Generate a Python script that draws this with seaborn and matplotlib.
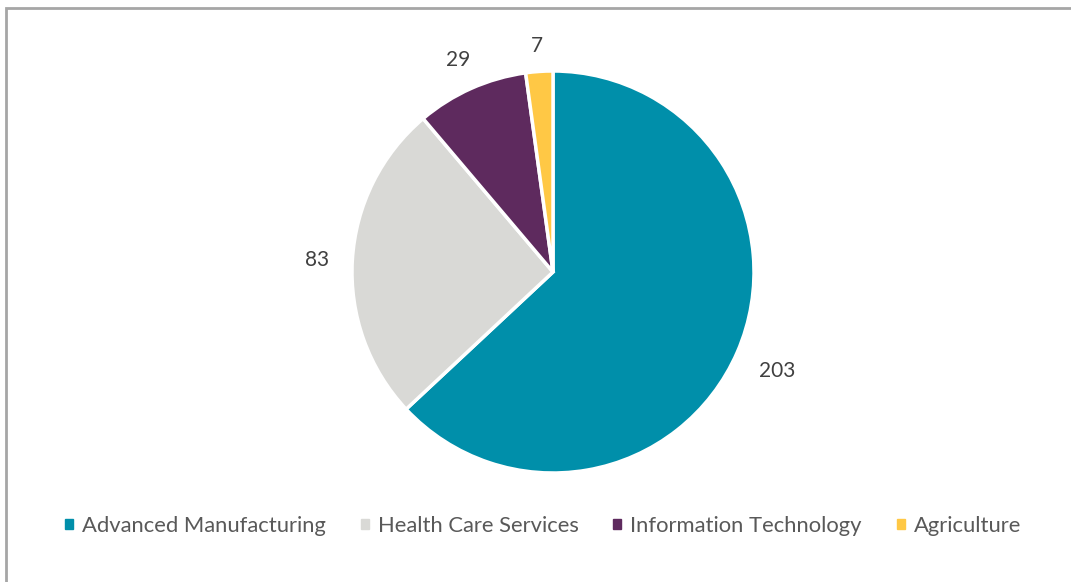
import matplotlib
matplotlib.use("Agg")
import numpy as np
import matplotlib.pyplot as plt
import matplotlib.patches as mpatches
import seaborn as sns

categories = ["Advanced Manufacturing", "Health Care Services", "Information Technology", "Agriculture"]
values = [203, 83, 29, 7]
colors = ["#008FAA", "#D9D9D6", "#5E2A5E", "#FFC845"]

sns.set_theme(style="white")
plt.rcParams['font.family'] = ['Lato', 'DejaVu Sans']

W, H = 1071, 582
fig = plt.figure(figsize=(W / 100, H / 100), dpi=100)
ax = fig.add_axes([0, 0, 1, 1])

cx, cy, R = 553, H - 272, 201
wedges, _ = ax.pie(
    values,
    colors=colors,
    startangle=90,
    counterclock=False,
    center=(cx, cy),
    radius=R,
    wedgeprops=dict(edgecolor="white", linewidth=2.5),
    frame=True,
)
ax.set_xlim(0, W)
ax.set_ylim(0, H)
ax.set_aspect("equal")
ax.axis("off")

# data labels placed outside each wedge (Excel "outside end" style)
for w, v in zip(wedges, values):
    ang = np.deg2rad((w.theta1 + w.theta2) / 2)
    c, s = np.cos(ang), np.sin(ang)
    s_lab = str(v)
    halfw, halfh = 7.5 * len(s_lab), 7
    d = R + 20 + abs(c) * halfw + abs(s) * halfh
    ax.text(cx + d * c, cy + d * s - 7.5, s_lab, ha="center", va="baseline",
            fontsize=15, color="#404040")

# border
fig.patches.append(mpatches.Rectangle((6 / W, -0.1), 1.2, 1 - 8 / H + 0.1,
                                      transform=fig.transFigure, fill=False,
                                      edgecolor="#A6A6A6", linewidth=2))

handles = [mpatches.Patch(color=c) for c in colors]
leg = fig.legend(handles, categories, loc="center", bbox_to_anchor=(543 / W, 1 - 526 / H),
                 ncol=4, frameon=False, fontsize=15.8, handlelength=0.36, handleheight=0.36,
                 handletextpad=0.4, columnspacing=1.6)
for t in leg.get_texts():
    t.set_color("#595959")

fig.savefig("out.png", dpi=100)
